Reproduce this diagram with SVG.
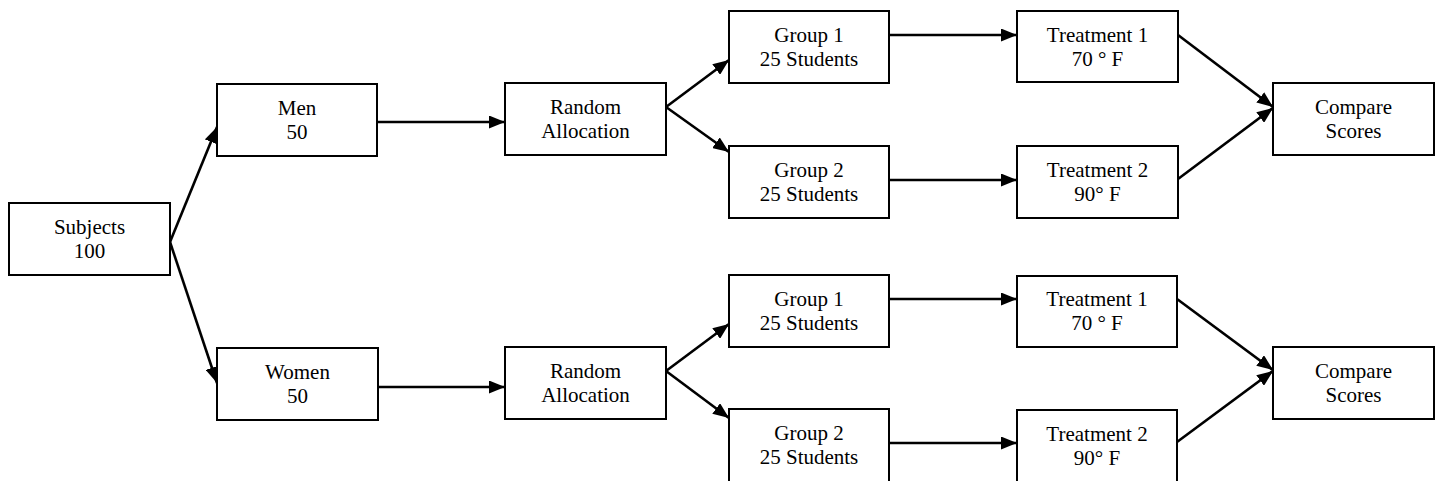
<svg xmlns="http://www.w3.org/2000/svg" width="1439" height="481" viewBox="0 0 1439 481">
<style>
  .box{fill:#fff;stroke:#000;stroke-width:2}
  .lbl{font-family:"Liberation Serif","Times New Roman",serif;font-size:21px;fill:#000;text-anchor:middle}
  .edge{stroke:#000;stroke-width:2.6;fill:none;marker-end:url(#ah)}
</style>
<defs>
  <marker id="ah" markerUnits="userSpaceOnUse" markerWidth="16" markerHeight="13" refX="16" refY="6.5" orient="auto">
    <path d="M0,0 L16,6.5 L0,13 z" fill="#000"/>
  </marker>
</defs>
<rect width="1439" height="481" fill="#fff"/>
<g id="connectors">
  <line class="edge" x1="170" y1="242" x2="217" y2="127"/>
  <line class="edge" x1="170" y1="242" x2="217" y2="383"/>
  <line class="edge" x1="377" y1="122" x2="505" y2="122"/>
  <line class="edge" x1="378" y1="387" x2="505" y2="387"/>
  <line class="edge" x1="666" y1="107" x2="729" y2="60"/>
  <line class="edge" x1="666" y1="107" x2="729" y2="152"/>
  <line class="edge" x1="666" y1="371" x2="729" y2="324"/>
  <line class="edge" x1="666" y1="371" x2="729" y2="418"/>
  <line class="edge" x1="889" y1="35" x2="1017" y2="35"/>
  <line class="edge" x1="889" y1="180" x2="1017" y2="180"/>
  <line class="edge" x1="889" y1="299" x2="1017" y2="299"/>
  <line class="edge" x1="889" y1="443" x2="1017" y2="443"/>
  <line class="edge" x1="1178" y1="35" x2="1273" y2="107"/>
  <line class="edge" x1="1178" y1="179" x2="1273" y2="108"/>
  <line class="edge" x1="1177" y1="299" x2="1273" y2="370"/>
  <line class="edge" x1="1177" y1="442" x2="1273" y2="371"/>
</g>
<g id="subjects"><rect class="box" x="9" y="203" width="161" height="72"/><text class="lbl" x="89.5" y="234">Subjects</text><text class="lbl" x="89.5" y="258">100</text></g>
<g id="men"><rect class="box" x="217" y="84" width="160" height="72"/><text class="lbl" x="297" y="115">Men</text><text class="lbl" x="297" y="139">50</text></g>
<g id="women"><rect class="box" x="217" y="348" width="161" height="72"/><text class="lbl" x="297.5" y="379">Women</text><text class="lbl" x="297.5" y="403">50</text></g>
<g id="random-men"><rect class="box" x="505" y="83" width="161" height="72"/><text class="lbl" x="585.5" y="114">Random</text><text class="lbl" x="585.5" y="138">Allocation</text></g>
<g id="random-women"><rect class="box" x="505" y="347" width="161" height="72"/><text class="lbl" x="585.5" y="378">Random</text><text class="lbl" x="585.5" y="402">Allocation</text></g>
<g id="group1-men"><rect class="box" x="729" y="11" width="160" height="72"/><text class="lbl" x="809" y="42">Group 1</text><text class="lbl" x="809" y="66">25 Students</text></g>
<g id="group2-men"><rect class="box" x="729" y="146" width="160" height="72"/><text class="lbl" x="809" y="177">Group 2</text><text class="lbl" x="809" y="201">25 Students</text></g>
<g id="group1-women"><rect class="box" x="729" y="275" width="160" height="72"/><text class="lbl" x="809" y="306">Group 1</text><text class="lbl" x="809" y="330">25 Students</text></g>
<g id="group2-women"><rect class="box" x="729" y="409" width="160" height="74"/><text class="lbl" x="809" y="440">Group 2</text><text class="lbl" x="809" y="464">25 Students</text></g>
<g id="treatment1-men"><rect class="box" x="1017" y="11" width="161" height="71"/><text class="lbl" x="1097.5" y="42">Treatment 1</text><text class="lbl" x="1097.5" y="66">70 ° F</text></g>
<g id="treatment2-men"><rect class="box" x="1017" y="146" width="161" height="72"/><text class="lbl" x="1097.5" y="177">Treatment 2</text><text class="lbl" x="1097.5" y="201">90° F</text></g>
<g id="treatment1-women"><rect class="box" x="1017" y="276" width="160" height="71"/><text class="lbl" x="1097" y="306">Treatment 1</text><text class="lbl" x="1097" y="330">70 ° F</text></g>
<g id="treatment2-women"><rect class="box" x="1017" y="410" width="160" height="73"/><text class="lbl" x="1097" y="441">Treatment 2</text><text class="lbl" x="1097" y="465">90° F</text></g>
<g id="compare-men"><rect class="box" x="1273" y="83" width="161" height="72"/><text class="lbl" x="1353.5" y="114">Compare</text><text class="lbl" x="1353.5" y="138">Scores</text></g>
<g id="compare-women"><rect class="box" x="1273" y="347" width="161" height="72"/><text class="lbl" x="1353.5" y="378">Compare</text><text class="lbl" x="1353.5" y="402">Scores</text></g>
</svg>
